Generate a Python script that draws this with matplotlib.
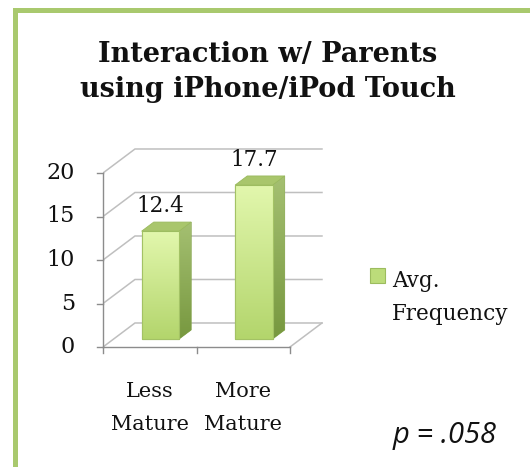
import numpy as np
import matplotlib
matplotlib.use("Agg")
import matplotlib.pyplot as plt
from matplotlib.patches import Polygon, Rectangle

# data
categories = ["Less\nMature", "More\nMature"]
values = [12.4, 17.7]
yticks = [0, 5, 10, 15, 20]
series_name = ["Avg.", "Frequency"]
title = "Interaction w/ Parents\nusing iPhone/iPod Touch"
note = "p = .058"

W, H = 530, 467
fig = plt.figure(figsize=(W / 100, H / 100), dpi=100)

# 3d look: depth offset of back wall (in data units)
x0, x1 = -0.5, 1.5
ymax = 20
DX, DY = 0.342, 2.76
bar_w = 0.40
d_front, d_back = 0.33, 0.71   # bar depth as fraction of floor depth

px_x = 93.5   # pixels per category unit
px_y = 8.7    # pixels per value unit
left_px, bottom_px = 103, 347
xr = (x0, x1 + DX + 0.02)
yr = (0, ymax + DY + 0.3)
ax = fig.add_axes([left_px / W, 1 - bottom_px / H,
                   (xr[1] - xr[0]) * px_x / W, (yr[1] - yr[0]) * px_y / H])
ax.set_xlim(*xr)
ax.set_ylim(*yr)
ax.axis("off")

grid_c = "#bfbfbf"
axis_c = "#8c8c8c"
serif = "DejaVu Serif"
# back wall grid + side wall diagonals
for v in yticks:
    ax.plot([x0, x0 + DX, x1 + DX], [v, v + DY, v + DY], color=grid_c, lw=1.1,
            solid_joinstyle="miter", zorder=1)
# floor front-right edge
ax.plot([x1, x1 + DX], [0, DY], color=grid_c, lw=1.1, zorder=1)
# front axes
ax.plot([x0, x0], [0, ymax], color=axis_c, lw=1.0, zorder=2, clip_on=False)
ax.plot([x0, x1], [0, 0], color=axis_c, lw=1.0, zorder=2, clip_on=False)
tick_len_x = 6 / px_x
tick_len_y = 6 / px_y
for v in yticks:
    ax.plot([x0 - tick_len_x, x0], [v, v], color=axis_c, lw=1.0, clip_on=False)
    ax.text(x0 - 0.30, v, str(v), ha="right", va="center", fontsize=16,
            family=serif, color="#111111")
for xt in [x0, 0.5, x1]:
    ax.plot([xt, xt], [0, -tick_len_y], color=axis_c, lw=1.0, clip_on=False)

# bars
ox, oy = DX * d_front, DY * d_front
sx, sy = DX * (d_back - d_front), DY * (d_back - d_front)
grad = np.linspace(0, 1, 256).reshape(-1, 1)
front_cmap = matplotlib.colors.LinearSegmentedColormap.from_list(
    "front", ["#b3d56c", "#e2f7ad"])
side_cmap = matplotlib.colors.LinearSegmentedColormap.from_list(
    "side", ["#77983f", "#a5c072"])
for i, v in enumerate(values):
    fx0 = i - bar_w / 2 + ox
    fx1 = i + bar_w / 2 + ox
    b = ax.bar(i + ox, v, bottom=oy, width=bar_w, color="#c8e58a",
               edgecolor="#a3c265", lw=0.8, zorder=4)[0]
    im = ax.imshow(grad, cmap=front_cmap, extent=[fx0, fx1, oy, oy + v],
                   aspect="auto", origin="lower", zorder=4.1)
    im.set_clip_path(b)
    ax.add_patch(Rectangle((fx0, oy), bar_w, v, fill=False, ec="#a3c265",
                           lw=0.8, zorder=4.2))
    side = Polygon([(fx1, oy), (fx1 + sx, oy + sy), (fx1 + sx, oy + v + sy),
                    (fx1, oy + v)], closed=True, fc="#8fae55", ec="#86a650",
                   lw=0.6, zorder=3.9)
    ax.add_patch(side)
    ims = ax.imshow(grad, cmap=side_cmap, extent=[fx1, fx1 + sx, oy, oy + v + sy],
                    aspect="auto", origin="lower", zorder=4.0)
    ims.set_clip_path(side)
    ax.add_patch(Polygon([(fx0, oy + v), (fx1, oy + v), (fx1 + sx, oy + v + sy),
                          (fx0 + sx, oy + v + sy)], closed=True, fc="#a9c66c",
                         ec="#9aba5e", lw=0.6, zorder=4.3))
    ax.text(i + ox, oy + v + sy + 0.6, f"{v:.1f}", ha="center", va="bottom",
            fontsize=15.5, family=serif, color="#111111", zorder=5)

ax.set_xlim(*xr)
ax.set_ylim(*yr)

# category labels (two lines each, 33px apart)
for i, c in enumerate(categories):
    for k, line in enumerate(c.split("\n")):
        ax.text(i, -(397 + 33 * k - bottom_px) / px_y, line, ha="center",
                va="baseline", fontsize=15, family=serif, color="#111111",
                clip_on=False)

# title
fig.text(268 / W, 1 - 72 / H, title, ha="center", va="center", fontsize=19.5,
         weight="bold", family=serif, color="#111111", linespacing=1.4)

# legend
fig.patches.append(Rectangle((370 / W, 1 - 283 / H), 15 / W, 15 / H,
                             transform=fig.transFigure, fc="#bcdc7a", ec="#9cbc5e",
                             lw=0.8))
for k, s in enumerate(series_name):
    fig.text(392 / W, 1 - (287 + 33 * k) / H, s, ha="left", va="baseline",
             fontsize=15.5, family=serif, color="#111111")

# p value
fig.text(393 / W, 1 - 443 / H, note, ha="left", va="baseline", fontsize=21,
         style="italic", family="Open Sans", color="#111111")

# green border (extends past right/bottom edges)
fig.patches.append(Rectangle((14.5 / W, -0.2), 1.5, 1.2 - 9.5 / H,
                             transform=fig.transFigure, fill=False,
                             ec="#a9c96e", lw=3.6))

fig.savefig("out.png", dpi=100, facecolor="white")
